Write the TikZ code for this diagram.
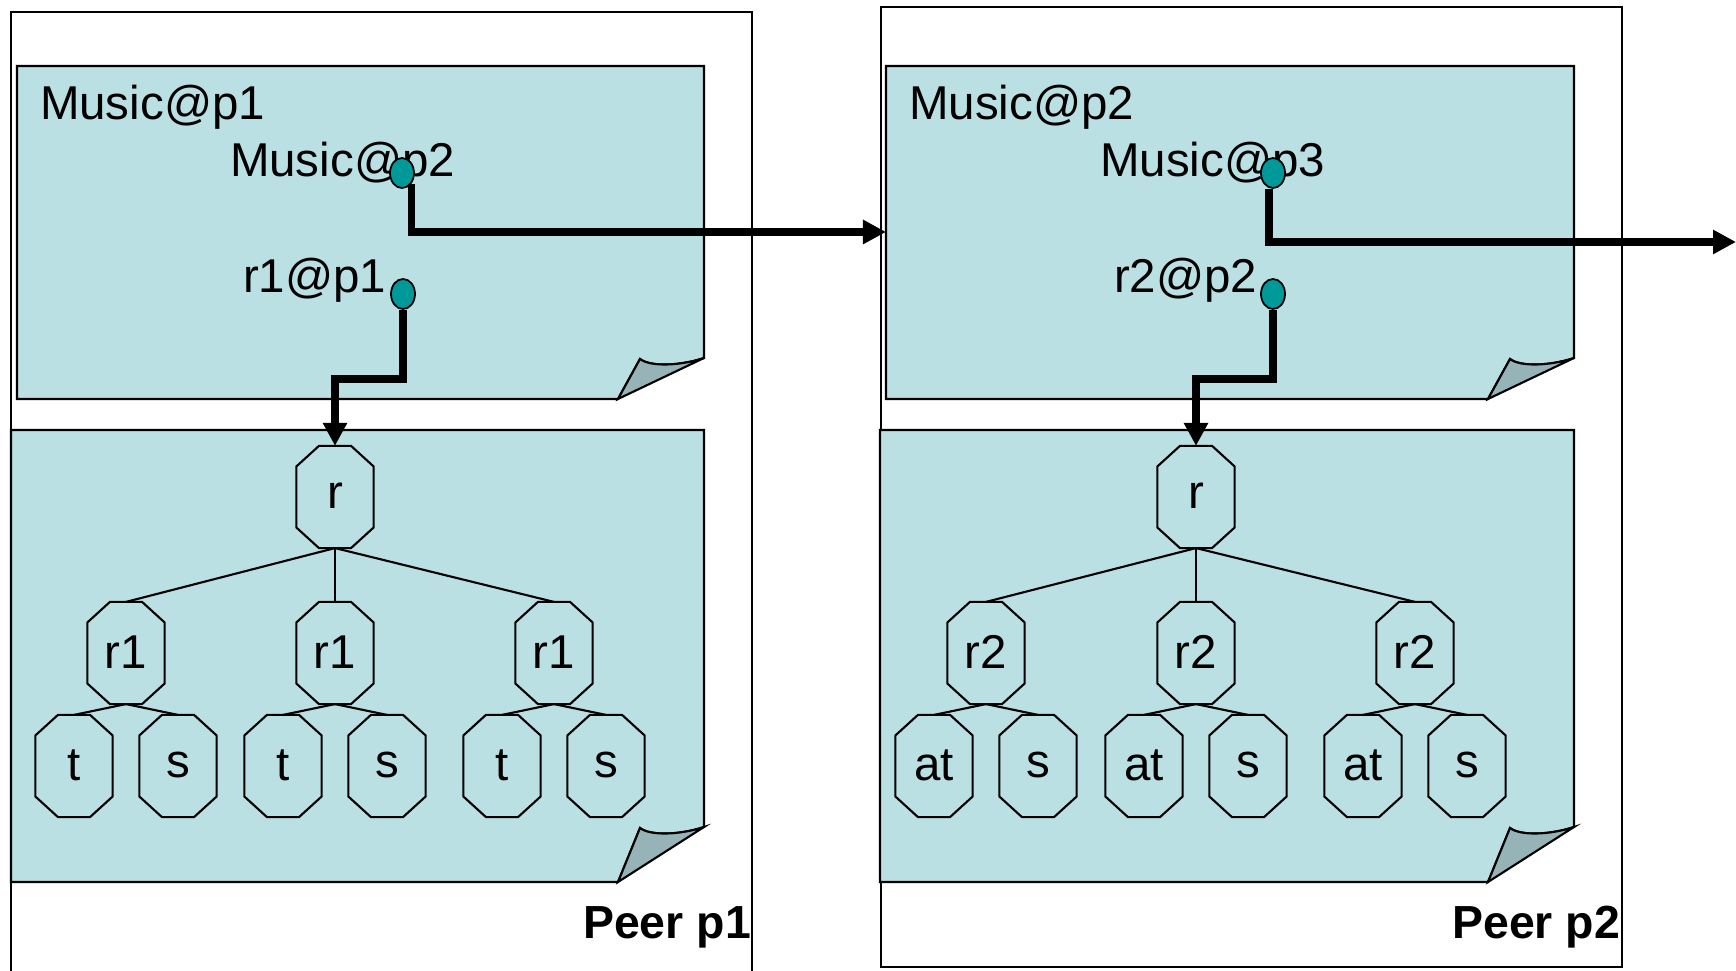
\documentclass[tikz,border=0pt]{standalone}
\usepackage{fontspec}
\setmainfont{Liberation Sans}
\usepackage{tikz}
\usetikzlibrary{arrows.meta,shapes.geometric}
\definecolor{sheetblue}{RGB}{187,224,227}
\definecolor{foldgray}{RGB}{150,180,183}
\definecolor{dotteal}{RGB}{0,153,153}
% octagon node: name, x, y, text
\newcommand\octnode[4]{%
  \node[octcore] (#1) at (#2,#3) {#4};
  \draw ([xshift=0.225cm]#1.north west) -- ([xshift=-0.225cm]#1.north east)
    -- ([yshift=-0.205cm]#1.north east) -- ([yshift=0.205cm]#1.south east)
    -- ([xshift=-0.225cm]#1.south east) -- ([xshift=0.225cm]#1.south west)
    -- ([yshift=0.205cm]#1.south west) -- ([yshift=-0.205cm]#1.north west) -- cycle;
}
\begin{document}
\begin{tikzpicture}[x=0.01cm,y=-0.01cm,>=Latex,line width=0.6pt,
  every node/.style={font=\fontsize{13.5}{16}\selectfont},
  octcore/.style={rectangle,minimum width=0.75cm,minimum height=1cm,inner sep=0pt,text depth=0.02cm},
  refdot/.style={draw,ellipse,fill=dotteal,minimum width=0.24cm,minimum height=0.30cm,inner sep=0pt,line width=0.5pt},
  link/.style={line width=2pt,-{Triangle[length=0.23cm,width=0.23cm]}},
  lbl/.style={anchor=base west,inner sep=0pt},
  peerlbl/.style={anchor=base east,inner sep=0pt,font=\fontsize{13.2}{16}\selectfont\bfseries}]
\useasboundingbox (0,0) rectangle (1736,971);

% Peer boxes
\draw (11,975) -- (11,12) -- (752,12) -- (752,975);
\draw (881,7) rectangle (1622,967);

% Sheets with folded corner
\foreach \xl/\yt/\xr/\yb/\dh in {17/66/704/399/41, 11/430/704/882/55, 886/66/1574/399/41, 880/430/1574/882/55} {
  \draw[fill=sheetblue] (\xl,\yt) -- (\xr,\yt) -- (\xr,\yb-\dh)
    .. controls (\xr-24,\yb-\dh+8) and (\xr-54,\yb-\dh+9) .. (\xr-64,\yb-\dh+1)
    -- (\xr-86,\yb) -- (\xl,\yb) -- cycle;
  \draw[fill=foldgray] (\xr-86,\yb) -- (\xr-64,\yb-\dh+1)
    .. controls (\xr-54,\yb-\dh+9) and (\xr-24,\yb-\dh+8) .. (\xr,\yb-\dh) -- cycle;
}

% Labels
\node[lbl] (mus1) at (39,120) {Music@p1};
\node[lbl] (mus2ref) at (229,177) {Music@p2};
\node[lbl] (r1ref) at (242,293) {r1@p1};
\node[lbl] (mus2) at (908,120) {Music@p2};
\node[lbl] (mus3ref) at (1099,177) {Music@p3};
\node[lbl] (r2ref) at (1113,293) {r2@p2};
\node[peerlbl] (peer1) at (752,939) {Peer p1};
\node[peerlbl] (peer2) at (1621,939) {Peer p2};

% Reference dots
\node[refdot] (m2dot) at (402,173) {};
\node[refdot] (r1dot) at (403,294) {};
\node[refdot] (m3dot) at (1273,173) {};
\node[refdot] (r2dot) at (1273,294) {};

% Trees
\octnode{root1}{335}{497}{r}
\foreach \i/\x in {a/126,b/335,c/554} {
  \octnode{r1\i}{\x}{653}{r1}
  \octnode{t1\i}{\x-52}{766}{t}
  \octnode{s1\i}{\x+52}{766}{s}
  \draw (root1.south) -- (r1\i.north);
  \draw (r1\i.south) -- (t1\i.north);
  \draw (r1\i.south) -- (s1\i.north);
}
\octnode{root2}{1196}{497}{r}
\foreach \i/\x in {a/986,b/1196,c/1415} {
  \octnode{r2\i}{\x}{653}{r2}
  \octnode{at2\i}{\x-52}{766}{at}
  \octnode{s2\i}{\x+52}{766}{s}
  \draw (root2.south) -- (r2\i.north);
  \draw (r2\i.south) -- (at2\i.north);
  \draw (r2\i.south) -- (s2\i.north);
}

% Links
\coordinate (p2in) at (886,232);
\coordinate (p3out) at (1736,242);
\coordinate (r1bend) at (0,379);
\coordinate (r2bend) at (0,379);
\draw[link] (m2dot.south east) |- (p2in);
\draw[link] (r1dot.south) -- (r1dot.south |- r1bend) -| (root1.north);
\draw[link] ([xshift=-0.04cm]m3dot.south) |- (p3out);
\draw[link] (r2dot.south) -- (r2dot.south |- r2bend) -| (root2.north);
\end{tikzpicture}
\end{document}
